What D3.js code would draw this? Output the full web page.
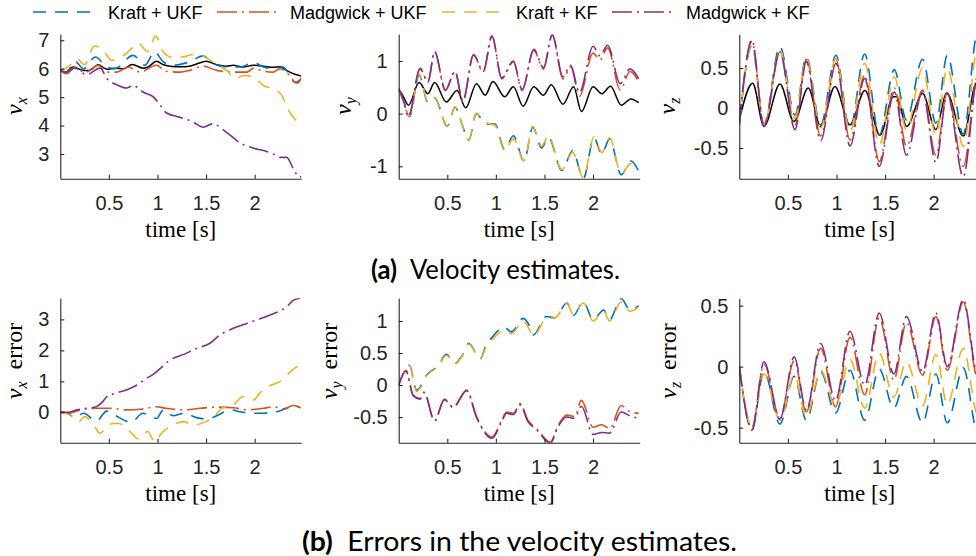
<!DOCTYPE html>
<html>
<head>
<meta charset="utf-8">
<script src="https://cdn.jsdelivr.net/npm/d3@7"></script>
<style>
  html, body { margin: 0; padding: 0; background: #ffffff; }
  svg { display: block; }
</style>
</head>
<body>
<svg id="fig" width="976" height="556"></svg>
<script>
// ---- series metadata -------------------------------------------------------
const seriesNames  = ["Kraft + UKF", "Madgwick + UKF", "Kraft + KF", "Madgwick + KF"];
const seriesColors = ["#0072BD", "#D95319", "#EDB120", "#7E2F8E"];
const truthColor   = "#000000";

// ---- axis ticks ------------------------------------------------------------
const timeDomain = [0, 2.48];
const timeTicks  = [0.5, 1, 1.5, 2];
const vxTicks    = [3, 4, 5, 6, 7];
const vyTicks    = [-1, 0, 1];
const vzTicks    = [-0.5, 0, 0.5];
const vxErrTicks = [0, 1, 2, 3];
const vyErrTicks = [-0.5, 0, 0.5, 1];
const vzErrTicks = [-0.5, 0, 0.5];

// ---- velocity estimates, [time s, value] ----------------------------------
const vxTruth = [[0,5.94],[0.05,5.86],[0.13,6.06],[0.24,5.94],[0.3,5.94],[0.39,6.14],[0.48,5.98],[0.56,6.02],[0.65,6.0],[0.74,6.15],[0.85,6.02],[0.9,6.05],[0.99,6.26],[1.06,6.14],[1.13,6.09],[1.23,6.07],[1.33,6.09],[1.44,6.21],[1.5,6.26],[1.61,6.14],[1.71,6.09],[1.78,6.12],[1.88,6.06],[1.99,6.12],[2.09,6.09],[2.19,6.05],[2.26,6.07],[2.33,5.94],[2.4,5.82],[2.46,5.76],[2.48,5.75]];
const vxKraftUKF = [[0,5.94],[0.065,5.88],[0.15,6.26],[0.24,6.0],[0.36,6.41],[0.48,6.06],[0.56,6.0],[0.75,6.47],[0.87,6.12],[0.97,6.59],[1.06,6.24],[1.16,6.12],[1.33,6.24],[1.47,6.45],[1.57,6.18],[1.71,6.06],[1.85,6.06],[1.99,6.21],[2.09,6.06],[2.19,6.0],[2.29,6.06],[2.4,5.55],[2.44,5.5],[2.48,5.68]];
const vxMadgUKF = [[0,5.94],[0.065,5.82],[0.15,6.06],[0.25,5.86],[0.39,6.12],[0.48,5.88],[0.58,5.88],[0.7,6.06],[0.82,5.88],[0.99,6.12],[1.09,5.91],[1.23,5.88],[1.33,5.94],[1.47,6.09],[1.61,5.94],[1.78,5.88],[1.92,5.88],[1.99,6.02],[2.09,5.91],[2.19,5.88],[2.26,6.0],[2.36,5.76],[2.42,5.52],[2.48,5.66]];
const vxKraftKF = [[0,5.94],[0.08,6.06],[0.17,6.35],[0.25,6.14],[0.35,6.8],[0.43,6.7],[0.53,6.29],[0.6,6.35],[0.7,6.6],[0.8,6.9],[0.9,6.6],[0.98,7.15],[1.06,6.59],[1.15,6.41],[1.25,6.41],[1.35,6.49],[1.44,6.47],[1.57,6.24],[1.71,5.94],[1.81,5.65],[1.88,5.76],[1.99,5.71],[2.09,5.41],[2.19,5.29],[2.28,5.06],[2.35,4.53],[2.41,4.24],[2.48,4.1]];
const vxMadgKF = [[0,5.94],[0.065,5.88],[0.15,6.02],[0.27,5.79],[0.41,6.02],[0.48,5.65],[0.58,5.44],[0.68,5.32],[0.75,5.41],[0.85,5.18],[0.96,5.0],[1.03,4.71],[1.09,4.45],[1.23,4.29],[1.37,4.12],[1.47,3.94],[1.57,4.06],[1.71,3.76],[1.85,3.39],[1.99,3.2],[2.09,3.12],[2.19,3.0],[2.26,2.88],[2.33,2.88],[2.4,2.47],[2.46,2.18],[2.48,2.2]];

const vyTruth = [[0,0.47],[0.05,0.32],[0.1,0.16],[0.21,0.59],[0.3,0.38],[0.37,0.59],[0.49,0.22],[0.6,0.44],[0.69,0.11],[0.8,0.57],[0.89,0.35],[0.97,0.61],[1.09,0.32],[1.18,0.51],[1.28,0.14],[1.39,0.51],[1.49,0.35],[1.57,0.55],[1.69,0.18],[1.8,0.51],[1.88,0.04],[2.0,0.51],[2.09,0.38],[2.18,0.52],[2.29,0.16],[2.39,0.28],[2.47,0.21]];
const vyKraftUKF = [[0,0.47],[0.05,0.23],[0.11,-0.06],[0.21,0.73],[0.3,0.22],[0.37,0.3],[0.5,-0.24],[0.58,0.12],[0.66,-0.25],[0.72,-0.51],[0.8,0.0],[0.87,-0.15],[0.92,-0.2],[0.99,-0.2],[1.09,-0.68],[1.18,-0.42],[1.29,-0.9],[1.38,-0.26],[1.47,-0.65],[1.54,-0.45],[1.68,-1.08],[1.79,-0.7],[1.9,-1.23],[2.01,-0.46],[2.09,-0.77],[2.17,-0.48],[2.29,-1.16],[2.39,-0.9],[2.47,-1.1]];
const vyMadgUKF = [[0,0.47],[0.055,0.22],[0.1,-0.06],[0.22,0.85],[0.3,0.6],[0.37,1.17],[0.48,0.44],[0.58,0.79],[0.66,0.23],[0.77,1.11],[0.87,0.79],[0.96,1.46],[1.06,0.66],[1.18,0.98],[1.27,0.44],[1.39,1.2],[1.49,0.85],[1.58,1.49],[1.69,0.66],[1.77,0.89],[1.86,0.33],[2.0,1.15],[2.07,1.02],[2.15,1.25],[2.28,0.45],[2.38,0.8],[2.47,0.6]];
const vyKraftKF = [[0,0.47],[0.05,0.24],[0.11,-0.05],[0.21,0.75],[0.3,0.22],[0.37,0.31],[0.5,-0.23],[0.58,0.13],[0.66,-0.24],[0.72,-0.5],[0.8,0.01],[0.87,-0.14],[0.92,-0.19],[0.99,-0.22],[1.09,-0.7],[1.18,-0.48],[1.29,-0.9],[1.38,-0.24],[1.47,-0.62],[1.54,-0.42],[1.68,-1.06],[1.79,-0.74],[1.9,-1.22],[2.01,-0.44],[2.09,-0.74],[2.17,-0.46],[2.29,-1.14],[2.39,-0.95],[2.47,-1.02]];
const vyMadgKF = [[0,0.47],[0.055,0.22],[0.1,-0.06],[0.22,0.86],[0.3,0.6],[0.37,1.18],[0.48,0.45],[0.58,0.8],[0.66,0.24],[0.77,1.12],[0.87,0.8],[0.96,1.48],[1.06,0.68],[1.18,1.0],[1.27,0.46],[1.39,1.22],[1.49,0.87],[1.58,1.5],[1.69,0.7],[1.77,0.92],[1.86,0.4],[2.0,1.28],[2.07,1.1],[2.15,1.3],[2.28,0.57],[2.38,0.85],[2.47,0.66]];

const vzTruth = [[0,-0.15],[0.137,0.31],[0.254,-0.23],[0.418,0.3],[0.562,-0.17],[0.71,0.25],[0.837,-0.23],[0.984,0.27],[1.139,-0.21],[1.293,0.22],[1.447,-0.34],[1.584,0.14],[1.62,0.14],[1.722,-0.23],[1.886,0.18],[2.023,-0.27],[2.133,0.19],[2.305,-0.35],[2.44,0.31],[2.48,0.3]];
const vzKraftUKF = [[0,-0.2],[0.13,0.78],[0.254,-0.2],[0.418,0.77],[0.573,-0.09],[0.69,0.64],[0.837,-0.21],[0.995,0.66],[1.139,-0.27],[1.29,0.675],[1.44,-0.34],[1.595,0.48],[1.72,-0.15],[1.886,0.61],[2.023,-0.19],[2.14,0.66],[2.305,-0.325],[2.445,0.92],[2.48,0.95]];
const vzMadgUKF = [[0,-0.2],[0.13,0.83],[0.254,-0.22],[0.418,0.7],[0.573,-0.21],[0.69,0.61],[0.837,-0.35],[0.995,0.6],[1.139,-0.4],[1.29,0.41],[1.44,-0.67],[1.595,0.25],[1.72,-0.48],[1.886,0.225],[2.023,-0.59],[2.14,0.2],[2.305,-0.73],[2.445,0.38],[2.48,0.42]];
const vzKraftKF = [[0,-0.2],[0.13,0.8],[0.254,-0.21],[0.418,0.72],[0.573,-0.13],[0.69,0.62],[0.837,-0.25],[0.995,0.62],[1.139,-0.3],[1.29,0.56],[1.44,-0.46],[1.595,0.39],[1.72,-0.275],[1.886,0.5],[2.023,-0.34],[2.14,0.5],[2.305,-0.48],[2.445,0.74],[2.48,0.78]];
const vzMadgKF = [[0,-0.2],[0.13,0.85],[0.254,-0.23],[0.418,0.7],[0.573,-0.27],[0.69,0.58],[0.837,-0.41],[0.995,0.56],[1.139,-0.475],[1.29,0.37],[1.44,-0.73],[1.595,0.2],[1.72,-0.59],[1.886,0.2],[2.023,-0.68],[2.14,0.18],[2.305,-0.86],[2.445,0.36],[2.48,0.4]];

// ---- estimation errors, [time s, value] -----------------------------------
const vxErrKraftUKF = [[0,0.02],[0.08,-0.04],[0.15,-0.17],[0.24,-0.03],[0.37,-0.28],[0.48,0.04],[0.56,-0.09],[0.73,-0.32],[0.85,-0.03],[0.99,-0.2],[1.06,0.08],[1.16,-0.11],[1.27,-0.03],[1.4,-0.17],[1.52,-0.22],[1.61,-0.11],[1.75,0.08],[1.85,0.02],[1.95,-0.03],[2.09,-0.03],[2.23,0.02],[2.33,0.13],[2.4,0.22],[2.47,0.15]];
const vxErrMadgUKF = [[0,0.02],[0.08,-0.03],[0.17,0.04],[0.27,0.11],[0.41,0.13],[0.51,0.13],[0.68,0.08],[0.85,0.11],[0.99,0.18],[1.09,0.13],[1.27,0.08],[1.44,0.13],[1.61,0.17],[1.78,0.15],[1.92,0.08],[2.09,0.13],[2.19,0.18],[2.29,0.11],[2.4,0.22],[2.47,0.15]];
const vxErrKraftKF = [[0,0.02],[0.1,-0.09],[0.19,-0.3],[0.25,-0.14],[0.34,-0.39],[0.41,-0.68],[0.49,-0.41],[0.58,-0.35],[0.67,-0.46],[0.75,-0.73],[0.8,-0.86],[0.9,-0.62],[0.97,-0.95],[1.04,-0.68],[1.16,-0.41],[1.27,-0.3],[1.37,-0.41],[1.5,-0.3],[1.57,-0.19],[1.66,0.13],[1.78,0.24],[1.88,0.51],[1.99,0.4],[2.05,0.61],[2.17,0.88],[2.26,0.99],[2.35,1.26],[2.41,1.42],[2.47,1.53]];
const vxErrMadgKF = [[0,0.02],[0.08,0],[0.17,0.08],[0.27,0.13],[0.37,0.18],[0.43,0.32],[0.48,0.51],[0.56,0.61],[0.68,0.72],[0.79,0.88],[0.89,1.1],[0.96,1.23],[1.03,1.42],[1.13,1.69],[1.27,1.87],[1.4,2.06],[1.54,2.23],[1.64,2.49],[1.78,2.71],[1.92,2.87],[2.02,2.98],[2.16,3.14],[2.26,3.27],[2.33,3.41],[2.4,3.62],[2.47,3.68]];

const vyErrKraftUKF = [[0,0],[0.065,0.23],[0.11,0.31],[0.185,-0.08],[0.29,0.16],[0.41,0.31],[0.49,0.48],[0.58,0.34],[0.665,0.49],[0.72,0.65],[0.84,0.41],[0.9,0.63],[0.97,0.76],[1.08,0.91],[1.16,0.83],[1.28,1.04],[1.35,0.91],[1.385,0.78],[1.52,1.07],[1.61,1.05],[1.73,1.28],[1.8,1.09],[1.9,1.3],[2.0,1.02],[2.11,1.17],[2.17,1.02],[2.29,1.35],[2.38,1.17],[2.47,1.24]];
const vyErrMadgUKF = [[0,0],[0.075,0.23],[0.15,-0.16],[0.22,-0.21],[0.26,-0.11],[0.37,-0.55],[0.47,-0.22],[0.56,-0.34],[0.7,-0.08],[0.8,-0.49],[0.96,-0.81],[1.06,-0.55],[1.11,-0.42],[1.18,-0.44],[1.25,-0.29],[1.33,-0.55],[1.42,-0.68],[1.56,-0.89],[1.64,-0.63],[1.73,-0.47],[1.81,-0.49],[1.88,-0.24],[2.0,-0.66],[2.09,-0.62],[2.17,-0.68],[2.29,-0.32],[2.38,-0.42],[2.47,-0.44]];
const vyErrKraftKF = [[0,0],[0.065,0.22],[0.11,0.3],[0.185,-0.1],[0.29,0.15],[0.41,0.3],[0.49,0.46],[0.58,0.33],[0.665,0.48],[0.72,0.64],[0.84,0.4],[0.9,0.6],[0.97,0.72],[1.08,0.85],[1.16,0.8],[1.28,1.0],[1.35,0.85],[1.385,0.76],[1.52,1.04],[1.61,1.05],[1.73,1.27],[1.8,1.1],[1.9,1.28],[2.0,1.0],[2.11,1.15],[2.17,1.0],[2.29,1.3],[2.38,1.15],[2.47,1.22]];
const vyErrMadgKF = [[0,0],[0.075,0.22],[0.15,-0.17],[0.22,-0.22],[0.26,-0.12],[0.37,-0.56],[0.47,-0.23],[0.56,-0.35],[0.7,-0.09],[0.8,-0.5],[0.96,-0.83],[1.06,-0.57],[1.11,-0.44],[1.18,-0.46],[1.25,-0.31],[1.33,-0.57],[1.42,-0.7],[1.56,-0.91],[1.64,-0.65],[1.73,-0.5],[1.81,-0.52],[1.88,-0.33],[2.0,-0.77],[2.09,-0.74],[2.17,-0.75],[2.29,-0.42],[2.38,-0.48],[2.47,-0.52]];

const vzErrKraftUKF = [[0,0],[0.13,-0.52],[0.254,-0.04],[0.418,-0.47],[0.565,-0.08],[0.69,-0.44],[0.837,-0.04],[0.99,-0.38],[1.139,-0.03],[1.29,-0.44],[1.44,-0.02],[1.59,-0.34],[1.72,-0.08],[1.886,-0.46],[2.023,-0.06],[2.14,-0.46],[2.305,-0.01],[2.44,-0.52],[2.48,-0.55]];
const vzErrMadgUKF = [[0,0],[0.13,-0.5],[0.254,0.02],[0.418,-0.42],[0.565,0.05],[0.69,-0.37],[0.837,0.15],[0.99,-0.33],[1.139,0.24],[1.29,-0.23],[1.44,0.4],[1.59,-0.11],[1.72,0.36],[1.886,-0.07],[2.023,0.41],[2.14,-0.03],[2.305,0.53],[2.44,-0.08],[2.48,-0.12]];
const vzErrKraftKF = [[0,0],[0.13,-0.49],[0.254,-0.06],[0.418,-0.44],[0.565,-0.07],[0.69,-0.41],[0.837,-0.03],[0.99,-0.32],[1.139,0.06],[1.29,-0.34],[1.44,0.11],[1.59,-0.25],[1.72,0.04],[1.886,-0.32],[2.023,0.1],[2.14,-0.31],[2.305,0.15],[2.44,-0.38],[2.48,-0.42]];
const vzErrMadgKF = [[0,0],[0.13,-0.52],[0.254,0.04],[0.418,-0.43],[0.565,0.08],[0.69,-0.36],[0.837,0.19],[0.99,-0.28],[1.139,0.29],[1.29,-0.15],[1.44,0.44],[1.59,-0.06],[1.72,0.41],[1.886,-0.04],[2.023,0.44],[2.14,0.0],[2.305,0.55],[2.44,-0.05],[2.48,-0.1]];

// ---- panel table built from the arrays above -------------------------------
const panels = [
  { row: 0, col: 0, comp: "x", err: false, yDomain: [2.13, 7.21],    ticks: vxTicks,    truth: vxTruth, series: [vxKraftUKF, vxMadgUKF, vxKraftKF, vxMadgKF] },
  { row: 0, col: 1, comp: "y", err: false, yDomain: [-1.236, 1.507], ticks: vyTicks,    truth: vyTruth, series: [vyKraftUKF, vyMadgUKF, vyKraftKF, vyMadgKF] },
  { row: 0, col: 2, comp: "z", err: false, yDomain: [-0.884, 0.921], ticks: vzTicks,    truth: vzTruth, series: [vzKraftUKF, vzMadgUKF, vzKraftKF, vzMadgKF] },
  { row: 1, col: 0, comp: "x", err: true,  yDomain: [-0.98, 3.68],   ticks: vxErrTicks, truth: null, series: [vxErrKraftUKF, vxErrMadgUKF, vxErrKraftKF, vxErrMadgKF] },
  { row: 1, col: 1, comp: "y", err: true,  yDomain: [-0.90, 1.354],  ticks: vyErrTicks, truth: null, series: [vyErrKraftUKF, vyErrMadgUKF, vyErrKraftKF, vyErrMadgKF] },
  { row: 1, col: 2, comp: "z", err: true,  yDomain: [-0.623, 0.56],  ticks: vzErrTicks, truth: null, series: [vzErrKraftUKF, vzErrMadgUKF, vzErrKraftKF, vzErrMadgKF] }
];

// ---- layout ----------------------------------------------------------------
const colLeft  = [60.3, 398.7, 739.3];
const plotW    = 241;
const rowTopBot = [[34.3, 178.7], [298.3, 442.7]];
const labelOffset = [[38, 48, 64], [38, 62, 63]];
const labelCenterY = [106, 361];
const axisColor = "#262626";
const dashStyles = ["13,9", "20,5,2,5", "13,9", "20,5,2,5"];
const tickFont = "'Liberation Sans', Arial, sans-serif";
const serifFont = "'Liberation Serif', 'Times New Roman', serif";

const svg = d3.select("#fig");
const defs = svg.append("defs");

panels.forEach((p, i) => {
  const x0 = colLeft[p.col];
  const [yTop, yBot] = rowTopBot[p.row];
  const x = d3.scaleLinear().domain(timeDomain).range([x0, x0 + plotW]);
  const y = d3.scaleLinear().domain(p.yDomain).range([yBot, yTop]);

  defs.append("clipPath").attr("id", "clip" + i)
    .append("rect")
    .attr("x", x0).attr("y", yTop)
    .attr("width", plotW).attr("height", yBot - yTop);

  const g = svg.append("g").attr("class", "panel");
  const lines = g.append("g").attr("clip-path", `url(#clip${i})`);
  const line = d3.line().x(d => x(d[0])).y(d => y(d[1])).curve(d3.curveMonotoneX);

  if (p.truth) {
    lines.append("path").datum(p.truth)
      .attr("d", line).attr("fill", "none")
      .attr("stroke", truthColor).attr("stroke-width", 1.5);
  }
  p.series.forEach((s, k) => {
    lines.append("path").datum(s)
      .attr("d", line).attr("fill", "none")
      .attr("stroke", seriesColors[k]).attr("stroke-width", 1.6)
      .attr("stroke-dasharray", dashStyles[k]);
  });

  // axes with inward ticks
  const xAxis = d3.axisBottom(x).tickValues(timeTicks)
    .tickSizeInner(-4).tickSizeOuter(0).tickPadding(17)
    .tickFormat(d => String(d));
  const yAxis = d3.axisLeft(y).tickValues(p.ticks)
    .tickSizeInner(-4).tickSizeOuter(0).tickPadding(11)
    .tickFormat(d => String(d));

  const gx = g.append("g").attr("transform", `translate(0,${yBot})`).call(xAxis);
  const gy = g.append("g").attr("transform", `translate(${x0},0)`).call(yAxis);
  [gx, gy].forEach(a => {
    a.attr("font-size", null).attr("font-family", null);
    a.select(".domain").attr("stroke", axisColor).attr("stroke-width", 1.1);
    a.selectAll(".tick line").attr("stroke", axisColor).attr("stroke-width", 1.1);
    a.selectAll(".tick text").attr("fill", axisColor)
      .style("font-family", tickFont).style("font-size", "20px");
  });

  // x label
  g.append("text")
    .attr("x", x0 + plotW / 2).attr("y", yBot + 58)
    .attr("text-anchor", "middle")
    .style("font-family", serifFont).style("font-size", "23px")
    .attr("fill", "#000")
    .text("time [s]");

  // y label: italic v with component subscript
  const lx = x0 - labelOffset[p.row][p.col];
  const ly = labelCenterY[p.row];
  const yl = g.append("text")
    .attr("transform", `translate(${lx},${ly}) rotate(-90)`)
    .attr("text-anchor", "middle")
    .style("font-family", serifFont).style("font-size", "24px")
    .attr("fill", "#000");
  yl.append("tspan").style("font-style", "italic").text("v");
  yl.append("tspan").style("font-style", "italic").style("font-size", "16px")
    .attr("dy", 5).text(p.comp);
  if (p.err) yl.append("tspan").attr("dy", -5).text("\u2002error");
});

// ---- legend ----------------------------------------------------------------
const legendLineX = [[33, 92], [217, 280], [442, 500], [612, 676]];
const legendTextX = [108, 290, 516, 686];
const legend = svg.append("g");
seriesNames.forEach((name, k) => {
  legend.append("line")
    .attr("x1", legendLineX[k][0]).attr("x2", legendLineX[k][1])
    .attr("y1", 12).attr("y2", 12)
    .attr("stroke", seriesColors[k]).attr("stroke-width", 1.6)
    .attr("stroke-dasharray", dashStyles[k]);
  legend.append("text")
    .attr("x", legendTextX[k]).attr("y", 19)
    .style("font-family", tickFont).style("font-size", "18px")
    .attr("fill", "#000").text(name);
});

// ---- sub-captions ----------------------------------------------------------
const captionFont = "Lato, 'Open Sans', sans-serif";
function caption(tag, rest, xStart, xEnd, yBase) {
  const t = svg.append("text").attr("x", xStart).attr("y", yBase)
    .style("font-family", captionFont).style("font-size", "26px").attr("fill", "#000")
    .attr("textLength", xEnd - xStart).attr("lengthAdjust", "spacingAndGlyphs");
  t.append("tspan").style("font-weight", "bold").text(tag);
  t.append("tspan").text("\u2002" + rest);
}
caption("(a)", "Velocity estimates.", 371, 620, 279);
caption("(b)", "Errors in the velocity estimates.", 302, 737, 551);
</script>
</body>
</html>
